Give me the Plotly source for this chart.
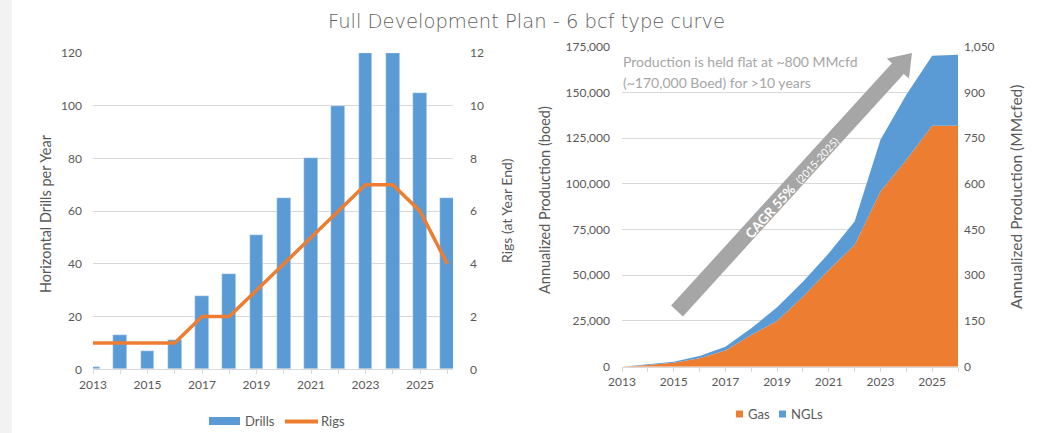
import plotly.graph_objects as go

W, H = 1038, 433

# ---- data -------------------------------------------------------------
years = list(range(2013, 2027))
drills = [1, 13, 7, 11, 28, 36, 51, 65, 80, 100, 120, 120, 105, 65]
rigs = [1, 1, 1, 1, 2, 2, 3, 4, 5, 6, 7, 7, 6, 4]

gas_boed = [0, 900, 2200, 4600, 8800, 17300, 25000, 38300, 52900, 66600,
            95800, 113100, 131800, 131800]
ngl_boed = [0, 400, 500, 1200, 2100, 3700, 7500, 8200, 9100, 12800,
            28300, 35600, 38300, 38800]

BLUE = "#5b9bd5"
ORANGE = "#ed7d31"
GRID = "#d9d9d9"
TXT = "#595959"
FONT = "Lato"


def px(x):
    return x / W


def py(y):
    return 1 - y / H


fig = go.Figure()

# ---- left chart: drills (bars) and rigs (line) --------------------------
fig.add_trace(go.Bar(x=years, y=drills, name="Drills", marker_color=BLUE,
                     width=0.5, xaxis="x", yaxis="y"))
fig.add_trace(go.Scatter(x=years, y=rigs, name="Rigs", mode="lines",
                         line=dict(color=ORANGE, width=3.5),
                         xaxis="x", yaxis="y2"))

# ---- right chart: stacked production areas ------------------------------
fig.add_trace(go.Scatter(x=years, y=gas_boed, name="Gas", mode="none",
                         stackgroup="prod", fillcolor=ORANGE,
                         xaxis="x2", yaxis="y3"))
fig.add_trace(go.Scatter(x=years, y=ngl_boed, name="NGLs", mode="none",
                         stackgroup="prod", fillcolor=BLUE,
                         xaxis="x2", yaxis="y3"))
# keeps the MMcfed axis alive
fig.add_trace(go.Scatter(x=[years[0]], y=[None], mode="lines",
                         showlegend=False, hoverinfo="skip",
                         xaxis="x2", yaxis="y4"))

tickfont = dict(family=FONT, size=12, color=TXT)

xcommon = dict(
    showgrid=False, zeroline=False, showline=True, linecolor=GRID,
    tick0=2013, dtick=2, ticks="outside", ticklen=4, tickcolor=GRID,
    minor=dict(dtick=1, tick0=2013, ticks="outside", ticklen=4,
               tickcolor=GRID, showgrid=False),
    tickfont=tickfont, fixedrange=True, automargin=False,
)

fig.update_layout(
    width=W, height=H,
    margin=dict(l=0, r=0, t=0, b=0),
    paper_bgcolor="white", plot_bgcolor="white",
    showlegend=False,
    bargap=0,
    xaxis=dict(domain=[px(93), px(453)], range=[2013, 2026.21], anchor="y",
               **xcommon),
    yaxis=dict(domain=[py(369.3), py(53)], range=[0, 120], dtick=20,
               showgrid=True, gridcolor=GRID, zeroline=False,
               tickfont=tickfont, ticklabelstandoff=10, automargin=False),
    yaxis2=dict(overlaying="y", side="right", anchor="x", range=[0, 12],
                dtick=2, showgrid=False, zeroline=False,
                tickfont=tickfont, ticklabelstandoff=16, automargin=False),
    xaxis2=dict(domain=[px(622), px(958)], range=[2013, 2026], anchor="y3",
                **xcommon),
    yaxis3=dict(domain=[py(366.7), py(46.7)], range=[0, 175000],
                dtick=25000, tickformat=",d", showgrid=True, gridcolor=GRID,
                zeroline=False, tickfont=tickfont, ticklabelstandoff=11,
                automargin=False, anchor="x2"),
    yaxis4=dict(overlaying="y3", side="right", anchor="x2",
                range=[0, 1050], dtick=150, tickformat=",d", showgrid=False,
                zeroline=False, tickfont=tickfont, ticklabelstandoff=5,
                automargin=False),
)

# ---- growth arrow -------------------------------------------------------
tail = (677.0, 311.0)
tip = (912.0, 53.0)
dx, dy = tip[0] - tail[0], tip[1] - tail[1]
ln = (dx * dx + dy * dy) ** 0.5
ux, uy = dx / ln, dy / ln
nx, ny = -uy, ux
head_len, head_half, shaft_half = 21.0, 15.0, 8.0
bx, by = tip[0] - head_len * ux, tip[1] - head_len * uy
pts = [
    (tail[0] + shaft_half * nx, tail[1] + shaft_half * ny),
    (bx + shaft_half * nx, by + shaft_half * ny),
    (bx + head_half * nx, by + head_half * ny),
    tip,
    (bx - head_half * nx, by - head_half * ny),
    (bx - shaft_half * nx, by - shaft_half * ny),
    (tail[0] - shaft_half * nx, tail[1] - shaft_half * ny),
]
path = "M " + " L ".join(f"{px(x):.5f},{py(y):.5f}" for x, y in pts) + " Z"

shapes = [
    # light page edge on the left
    dict(type="rect", xref="paper", yref="paper", x0=0, x1=px(12), y0=0,
         y1=1, fillcolor="#f2f2f2", line_width=0, layer="below"),
    dict(type="path", xref="paper", yref="paper", path=path,
         fillcolor="#a6a6a6", line_width=0),
    # legend swatches
    dict(type="rect", xref="paper", yref="paper", x0=px(209), x1=px(240),
         y0=py(425), y1=py(417), fillcolor=BLUE, line_width=0),
    dict(type="line", xref="paper", yref="paper", x0=px(285), x1=px(318),
         y0=py(421.5), y1=py(421.5), line=dict(color=ORANGE, width=4)),
    dict(type="rect", xref="paper", yref="paper", x0=px(736), x1=px(743),
         y0=py(417.5), y1=py(410.5), fillcolor=ORANGE, line_width=0),
    dict(type="rect", xref="paper", yref="paper", x0=px(779), x1=px(786),
         y0=py(417.5), y1=py(410.5), fillcolor=BLUE, line_width=0),
]
fig.update_layout(shapes=shapes)


def note(text, x, y, size=13, color=TXT, angle=0, xanchor="center",
         family=FONT, weight="normal"):
    fig.add_annotation(text=text, xref="paper", yref="paper", x=px(x),
                       y=py(y), xanchor=xanchor, yanchor="middle",
                       textangle=angle, showarrow=False,
                       font=dict(family=family, size=size, color=color,
                                 weight=weight))


note("Full Development Plan - 6 bcf type curve", 526, 22, size=19.5,
     family="DejaVu Sans", weight=300, color="#5f5f5f")
note("Horizontal Drills per Year", 45, 214, size=14.5, angle=-90)
note("Rigs (at Year End)", 506, 211, size=14, angle=-90)
note("Annualized Production (boed)", 545, 200, size=14.5, angle=-90)
note("Annualized Production (MMcfed)", 1016, 197, size=15.5, angle=-90)

note("Production is held flat at ~800 MMcfd", 621, 62, size=14,
     color="#a6a6a6", xanchor="left")
note("(~170,000 Boed) for >10 years", 621, 82, size=14, color="#a6a6a6",
     xanchor="left")

note("<b>CAGR 55%</b>  <span style='font-size:10.5px'>(2015-2025)</span>",
     792, 187, size=13.5, color="white", angle=-48)

note("Drills", 243, 421, size=13, xanchor="left")
note("Rigs", 319, 421, size=13, xanchor="left")
note("Gas", 746, 414, size=13, xanchor="left")
note("NGLs", 789, 414, size=13, xanchor="left")

fig.write_html("out.html")
